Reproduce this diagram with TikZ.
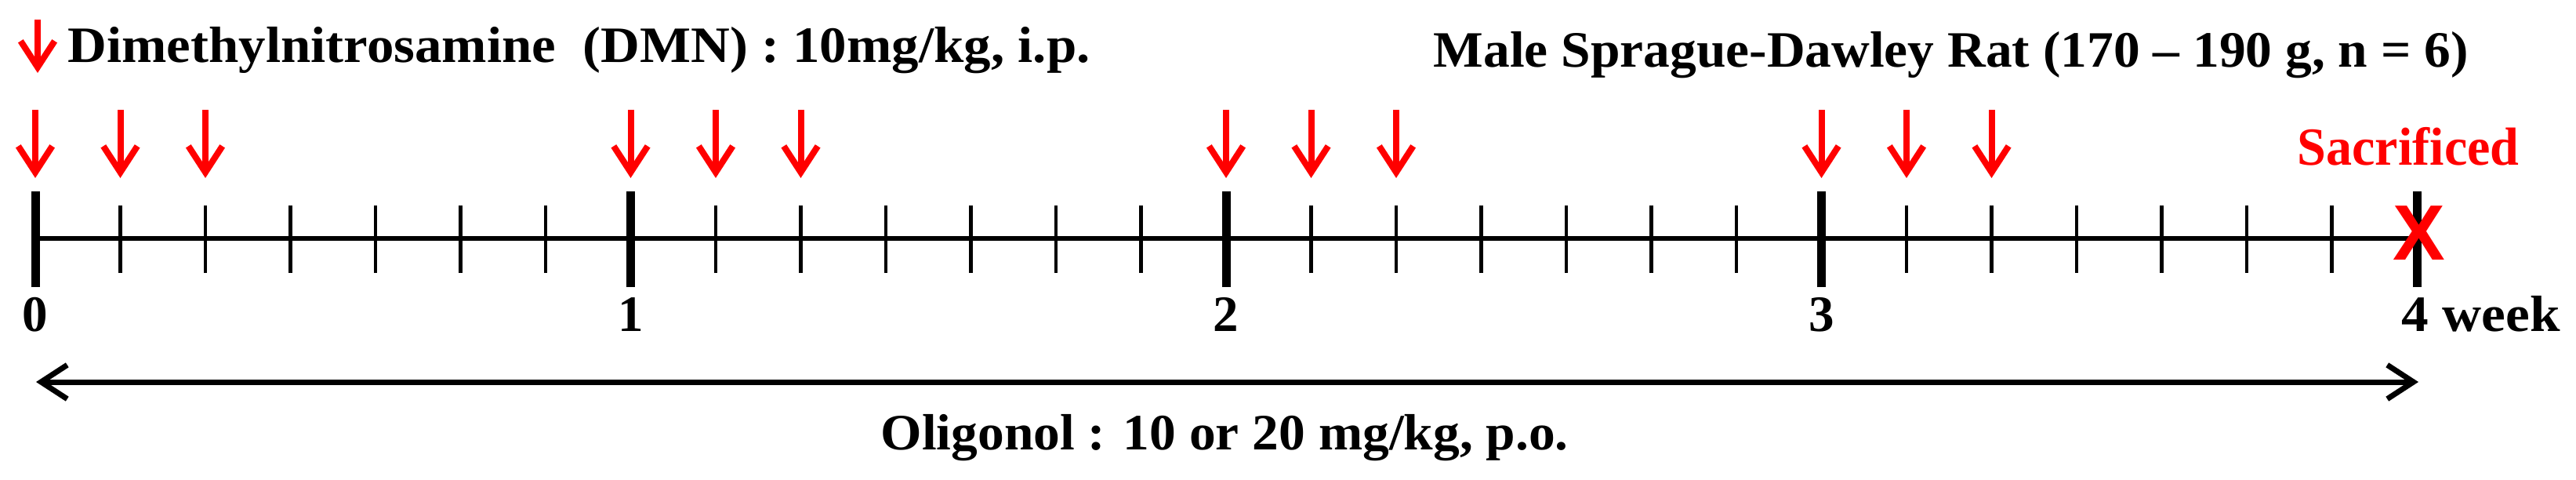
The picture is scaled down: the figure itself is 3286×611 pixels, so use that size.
\documentclass[tikz,border=0pt]{standalone}
\usepackage{fontspec}
\setmainfont{Liberation Serif}
\setsansfont{Liberation Sans}
\usetikzlibrary{arrows.meta}
\begin{document}
\begin{tikzpicture}[x=0.3pt,y=0.3pt,
  lbl/.style={inner sep=0pt, font=\fontsize{19.5}{22}\selectfont\bfseries},
  redlbl/.style={inner sep=0pt, text=red, font=\fontsize{20.5}{23}\selectfont\bfseries},
  redarrow/.style={draw=red, line width=2.4pt, -{Straight Barb[length=10pt,width=13pt]}},
  spanarrow/.style={line width=2.1pt, {Straight Barb[length=10pt,width=13pt]}-{Straight Barb[length=10pt,width=13pt]}},
  major/.style={line width=3.3pt},
  minor/.style={line width=1.4pt},
  axisline/.style={line width=2pt}]
\useasboundingbox (0,0) rectangle (3286,611);
% axis
\coordinate (a0) at (45,307);
\coordinate (a4) at (3083,307);
\draw[axisline] (a0) -- (a4);
% ticks
\foreach \w in {0,1,2,3}{
  \foreach \d in {1,...,6}{
    \draw[minor] ({45+759.5*\w+108.5*\d},263) -- ({45+759.5*\w+108.5*\d},349);
  }
}
\foreach \w in {0,1,2,3,4}{
  \draw[major] ({45+759.5*\w},245) -- ({45+759.5*\w},367);
}
% red arrows
\foreach \w in {0,1,2,3}{
  \foreach \d in {0,1,2}{
    \draw[redarrow] ({45+759.5*\w+108.5*\d},471) -- ({45+759.5*\w+108.5*\d},384);
  }
}
% legend arrow
\coordinate (lt) at (48,586);
\coordinate (lb) at (48,518);
\draw[redarrow] (lt) -- (lb);
\node[lbl, anchor=base west] (dmn) at (86,531) {\resizebox{391.2pt}{\height}{Dimethylnitrosamine\ \ (DMN) : 10mg/kg, i.p.}};
\node[lbl, anchor=base west] (rat) at (1828,526) {\resizebox{396pt}{\height}{Male Sprague-Dawley Rat (170 -- 190 g, n = 6)}};
\node[redlbl, anchor=base west] (sac) at (2930,401) {\resizebox{84.9pt}{\height}{Sacrificed}};
\node[inner sep=0pt, text=red, font=\sffamily\bfseries\fontsize{30}{30}\selectfont] (x4) at (3086,314) {X};
% week labels
\node[lbl, anchor=base] (w0) at (45,189) {0};
\node[lbl, anchor=base] (w1) at (804.5,189) {1};
\node[lbl, anchor=base] (w2) at (1564,189) {2};
\node[lbl, anchor=base] (w3) at (2323.5,189) {3};
\node[lbl, anchor=base west] (w4) at (3063,189) {\resizebox{60.6pt}{\height}{4 week}};
% oligonol span
\coordinate (sl) at (46,124);
\coordinate (sr) at (3085,124);
\draw[spanarrow] (sl) -- (sr);
\node[lbl, anchor=base west] (oli) at (1123,38) {\resizebox{263.1pt}{\height}{Oligonol : 10 or 20 mg/kg, p.o.}};
\end{tikzpicture}
\end{document}
